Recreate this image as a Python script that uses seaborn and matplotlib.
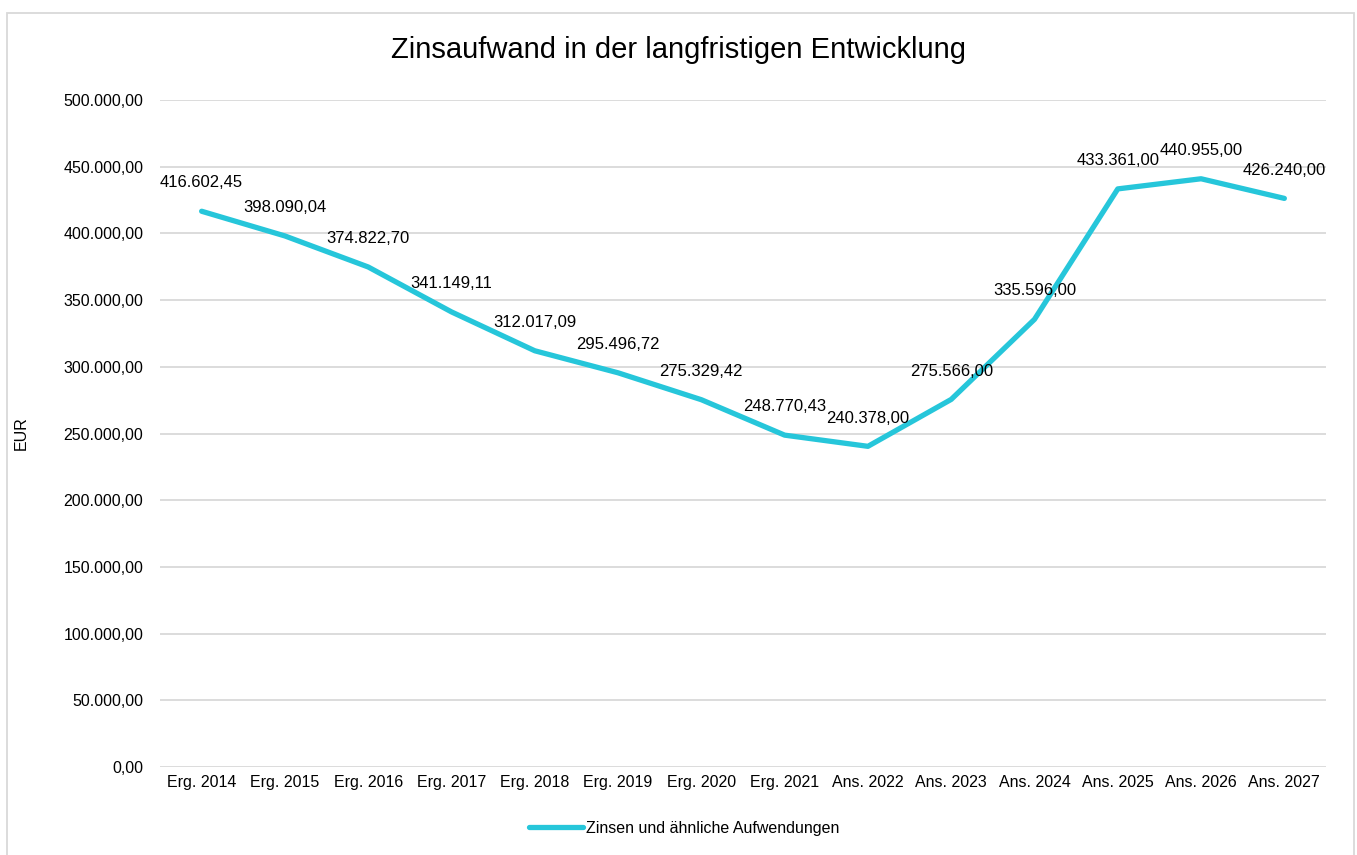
import matplotlib
matplotlib.use("Agg")
import matplotlib.pyplot as plt
import seaborn as sns
import pandas as pd
from matplotlib.patches import Rectangle
from matplotlib.ticker import FuncFormatter

categories = ["Erg. 2014", "Erg. 2015", "Erg. 2016", "Erg. 2017", "Erg. 2018", "Erg. 2019",
              "Erg. 2020", "Erg. 2021", "Ans. 2022", "Ans. 2023", "Ans. 2024", "Ans. 2025",
              "Ans. 2026", "Ans. 2027"]
values = [416602.45, 398090.04, 374822.70, 341149.11, 312017.09, 295496.72, 275329.42,
          248770.43, 240378.00, 275566.00, 335596.00, 433361.00, 440955.00, 426240.00]
series_name = "Zinsen und ähnliche Aufwendungen"

sns.set_theme(style="white")
plt.rcParams['font.family'] = ['Liberation Sans', 'DejaVu Sans']
plt.rcParams['text.color'] = '#000000'
plt.rcParams['axes.labelcolor'] = '#000000'

def de_fmt(v):
    s = f"{v:,.2f}"
    return s.replace(",", "X").replace(".", ",").replace("X", ".")

df = pd.DataFrame({"Kategorie": categories, "Wert": values, "Serie": series_name})

fig = plt.figure(figsize=(13.57, 8.55), dpi=100)
ax = fig.add_axes([160/1357, 1-767/855, (1326-160)/1357, (767-100)/855])

color = "#26C6DA"
sns.lineplot(data=df, x="Kategorie", y="Wert", hue="Serie", palette=[color], sort=False,
             linewidth=3.8, ax=ax, legend=True)

ax.set_xlim(-0.5, len(categories) - 0.5)
ax.set_ylim(0, 500000)
ax.set_yticks(range(0, 500001, 50000))
ax.yaxis.set_major_formatter(FuncFormatter(lambda v, p: de_fmt(v)))
ax.grid(axis="y", color="#D9D9D9", linewidth=1.3)
ax.grid(axis="x", visible=False)
for s in ax.spines.values():
    s.set_visible(False)
ax.tick_params(axis="both", length=0, labelsize=11.5, colors="#000000", pad=12)
ax.tick_params(axis="x", pad=6)
ax.set_xlabel("")
ax.set_ylabel("EUR", fontsize=11.5, color="#000000")
ax.yaxis.set_label_coords((29 - 160) / (1326 - 160), 0.5)

for i, v in enumerate(values):
    ax.annotate(de_fmt(v), (i, v), xytext=(0, 15), textcoords="offset points",
                ha="center", va="bottom", fontsize=12, color="#000000")

fig.suptitle("Zinsaufwand in der langfristigen Entwicklung", fontsize=21, y=1-50/855,
             va="center", color="#000000")

ax.get_legend().remove()
handles, labels = ax.get_legend_handles_labels()
leg = fig.legend(handles, labels, loc="center", bbox_to_anchor=(684/1357, 1-828/855), frameon=False,
                 fontsize=11.5, handlelength=3.4, handletextpad=0.2, ncol=1, labelcolor="#000000")
for h in leg.get_lines():
    h.set_linewidth(3.8)

fig.patches.append(Rectangle((7/1357, -0.05), (1354-7)/1357, 1.05 - 13/855, transform=fig.transFigure,
                             fill=False, edgecolor="#D9D9D9", linewidth=1.3))

fig.savefig("out.png", dpi=100)
